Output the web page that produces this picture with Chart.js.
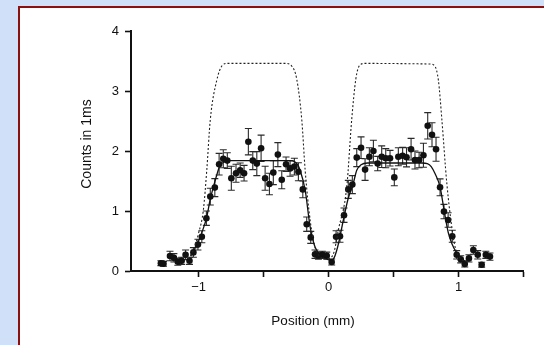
<!DOCTYPE html>
<html>
<head>
<meta charset="utf-8">
<script src="https://cdn.jsdelivr.net/npm/chart.js@4"></script>
<style>
  html, body { margin: 0; padding: 0; }
  body { width: 544px; height: 345px; background: #cfe0f8; position: relative; overflow: hidden; }
  #panel { position: absolute; left: 18px; top: 6px; width: 600px; height: 400px; background: #fff;
           border-left: 2px solid #8b1010; border-top: 2px solid #8b1010; }
  #c { position: absolute; left: 0; top: 0; }
</style>
</head>
<body>
<div id="panel"></div>
<canvas id="c" width="544" height="345"></canvas>
<script>
// measured counts (position in mm, counts in 1 ms, error bar half-length)
const posX = [-1.29, -1.27, -1.22, -1.19, -1.16, -1.13, -1.10, -1.07, -1.04, -1.005,
  -0.975, -0.94, -0.91, -0.875, -0.842, -0.81, -0.779, -0.748, -0.712, -0.68,
  -0.65, -0.617, -0.583, -0.552, -0.519, -0.488, -0.455, -0.425, -0.39, -0.36,
  -0.327, -0.296, -0.263, -0.232, -0.198, -0.168, -0.137, -0.104, -0.078, -0.048,
  -0.014, 0.024, 0.058, 0.088, 0.119, 0.152, 0.183, 0.217, 0.25, 0.281,
  0.314, 0.345, 0.378, 0.409, 0.44, 0.473, 0.506, 0.537, 0.57, 0.60,
  0.635, 0.665, 0.697, 0.73, 0.763, 0.796, 0.827, 0.858, 0.888, 0.92,
  0.952, 0.986, 1.017, 1.048, 1.08, 1.114, 1.148, 1.178, 1.21, 1.242];
const counts = [0.13, 0.12, 0.25, 0.22, 0.155, 0.17, 0.27, 0.17, 0.31, 0.44,
  0.57, 0.88, 1.24, 1.39, 1.78, 1.87, 1.84, 1.545, 1.63, 1.68,
  1.63, 2.155, 1.84, 1.79, 2.045, 1.545, 1.45, 1.64, 1.94, 1.52,
  1.78, 1.71, 1.74, 1.655, 1.36, 0.78, 0.56, 0.28, 0.255, 0.27,
  0.255, 0.15, 0.57, 0.58, 0.93, 1.36, 1.44, 1.89, 2.055, 1.69,
  1.905, 2.0, 1.79, 1.905, 1.88, 1.88, 1.56, 1.905, 1.92, 1.895,
  2.03, 1.85, 1.85, 1.93, 2.42, 2.27, 2.03, 1.395, 0.99, 0.85,
  0.58, 0.27, 0.195, 0.117, 0.21, 0.35, 0.27, 0.105, 0.27, 0.24];
const countErr = [0.04, 0.04, 0.08, 0.07, 0.06, 0.06, 0.08, 0.06, 0.08, 0.09,
  0.1, 0.12, 0.14, 0.15, 0.18, 0.15, 0.13, 0.2, 0.15, 0.12,
  0.13, 0.22, 0.15, 0.2, 0.22, 0.2, 0.18, 0.2, 0.2, 0.15,
  0.12, 0.13, 0.14, 0.15, 0.14, 0.12, 0.1, 0.07, 0.06, 0.06,
  0.06, 0.05, 0.1, 0.1, 0.12, 0.15, 0.15, 0.15, 0.18, 0.18,
  0.15, 0.18, 0.12, 0.18, 0.16, 0.13, 0.14, 0.15, 0.14, 0.16,
  0.18, 0.15, 0.13, 0.2, 0.22, 0.2, 0.2, 0.14, 0.12, 0.12,
  0.1, 0.07, 0.06, 0.05, 0.06, 0.07, 0.07, 0.04, 0.06, 0.06];

// fitted profile (solid line)
const fitX = [-1.06, -1.04, -1.0, -0.975, -0.937, -0.91, -0.886, -0.86, -0.835, -0.8,
  -0.76, -0.3, -0.26, -0.235, -0.219, -0.18, -0.142, -0.104, -0.065, -0.03,
  0.012, 0.037, 0.07, 0.114, 0.15, 0.19, 0.217, 0.25, 0.3, 0.72,
  0.76, 0.79, 0.82, 0.858, 0.89, 0.92, 0.95, 0.986, 1.02, 1.06];
const fitY = [0.25, 0.33, 0.5, 0.64, 0.9, 1.2, 1.4, 1.6, 1.76, 1.82,
  1.84, 1.84, 1.82, 1.76, 1.68, 1.35, 0.74, 0.4, 0.28, 0.22,
  0.18, 0.2, 0.4, 0.85, 1.2, 1.46, 1.68, 1.77, 1.8, 1.8,
  1.79, 1.74, 1.62, 1.4, 1.0, 0.65, 0.45, 0.3, 0.2, 0.155];

// dotted profile
const dashX = [-1.08, -1.04, -1.0, -0.963, -0.937, -0.91, -0.86, -0.82, -0.78, -0.33,
  -0.285, -0.245, -0.206, -0.18, -0.142, -0.104, -0.07, -0.01, 0.04, 0.075,
  0.14, 0.178, 0.21, 0.24, 0.28, 0.78, 0.816, 0.845, 0.872, 0.91,
  0.955, 0.98, 1.02, 1.07];
const dashY = [0.2, 0.35, 0.63, 1.02, 1.68, 2.52, 3.18, 3.42, 3.46, 3.46,
  3.42, 3.2, 2.52, 1.68, 0.85, 0.4, 0.25, 0.2, 0.3, 0.68,
  1.4, 2.52, 3.2, 3.43, 3.46, 3.45, 3.42, 3.18, 2.52, 1.46,
  0.63, 0.35, 0.2, 0.15];

const xTicks = [-1, -0.5, 0, 0.5, 1, 1.5];
const xLabels = ['\u22121', '', '0', '', '1', ''];
const yTicks = [0, 1, 2, 3, 4];

const fontFamily = "'Liberation Sans', Arial, Helvetica, sans-serif";

// error bars drawn through the chart scales
const errorBars = {
  id: 'errorBars',
  beforeDatasetsDraw(chart) {
    const { ctx, scales: { x, y } } = chart;
    ctx.save();
    ctx.strokeStyle = '#2a2a2a';
    ctx.lineWidth = 1.1;
    posX.forEach((v, i) => {
      const px = x.getPixelForValue(v);
      const top = y.getPixelForValue(counts[i] + countErr[i]);
      const bot = y.getPixelForValue(counts[i] - countErr[i]);
      ctx.beginPath();
      ctx.moveTo(px, top); ctx.lineTo(px, bot);
      ctx.moveTo(px - 3.5, top); ctx.lineTo(px + 3.5, top);
      ctx.moveTo(px - 3.5, bot); ctx.lineTo(px + 3.5, bot);
      ctx.stroke();
    });
    ctx.restore();
  }
};

// axis titles
const axisTitles = {
  id: 'axisTitles',
  afterDraw(chart) {
    const ctx = chart.ctx;
    ctx.save();
    ctx.fillStyle = '#111';
    ctx.textAlign = 'center';
    ctx.textBaseline = 'middle';
    ctx.font = '13.5px ' + fontFamily;
    ctx.fillText('Position (mm)', 313, 321);
    ctx.translate(87, 144);
    ctx.rotate(-Math.PI / 2);
    ctx.font = '14px ' + fontFamily;
    ctx.fillText('Counts in 1ms', 0, 0);
    ctx.restore();
  }
};

const ctx = document.getElementById('c').getContext('2d');
new Chart(ctx, {
  type: 'scatter',
  data: {
    datasets: [
      {
        label: 'dotted',
        data: dashX.map((v, i) => ({ x: v, y: dashY[i] })),
        showLine: true,
        borderColor: '#222',
        borderWidth: 1.1,
        borderDash: [2, 2],
        pointRadius: 0,
        cubicInterpolationMode: 'monotone'
      },
      {
        label: 'fit',
        data: fitX.map((v, i) => ({ x: v, y: fitY[i] })),
        showLine: true,
        borderColor: '#111',
        borderWidth: 1.3,
        pointRadius: 0,
        cubicInterpolationMode: 'monotone'
      },
      {
        label: 'counts',
        data: posX.map((v, i) => ({ x: v, y: counts[i] })),
        showLine: false,
        pointRadius: 3.3,
        pointBackgroundColor: '#111',
        pointBorderColor: '#111',
        pointBorderWidth: 0
      }
    ]
  },
  options: {
    responsive: false,
    animation: false,
    events: [],
    layout: { padding: { top: 31, right: 20.5, left: 80, bottom: 17 } },
    plugins: { legend: { display: false }, tooltip: { enabled: false } },
    scales: {
      x: {
        type: 'linear',
        min: -1.52,
        max: 1.5,
        afterBuildTicks: s => { s.ticks = xTicks.map(v => ({ value: v })); },
        afterFit: s => { s.height = 57; },
        grid: { drawOnChartArea: false, tickLength: 6, tickColor: '#111', tickWidth: 1.6 },
        border: { color: '#111', width: 2 },
        ticks: {
          padding: 3,
          color: '#111',
          font: { family: fontFamily, size: 13 },
          maxRotation: 0,
          autoSkip: false,
          callback: (v, i) => xLabels[i]
        }
      },
      y: {
        type: 'linear',
        min: 0,
        max: 4,
        afterBuildTicks: s => { s.ticks = yTicks.map(v => ({ value: v })); },
        afterFit: s => { s.width = 51; },
        grid: { drawOnChartArea: false, tickLength: 6, tickColor: '#111', tickWidth: 1.6 },
        border: { color: '#111', width: 2 },
        ticks: {
          padding: 6,
          color: '#111',
          font: { family: fontFamily, size: 13 },
          callback: v => String(v)
        }
      }
    }
  },
  plugins: [errorBars, axisTitles]
});
</script>
</body>
</html>
